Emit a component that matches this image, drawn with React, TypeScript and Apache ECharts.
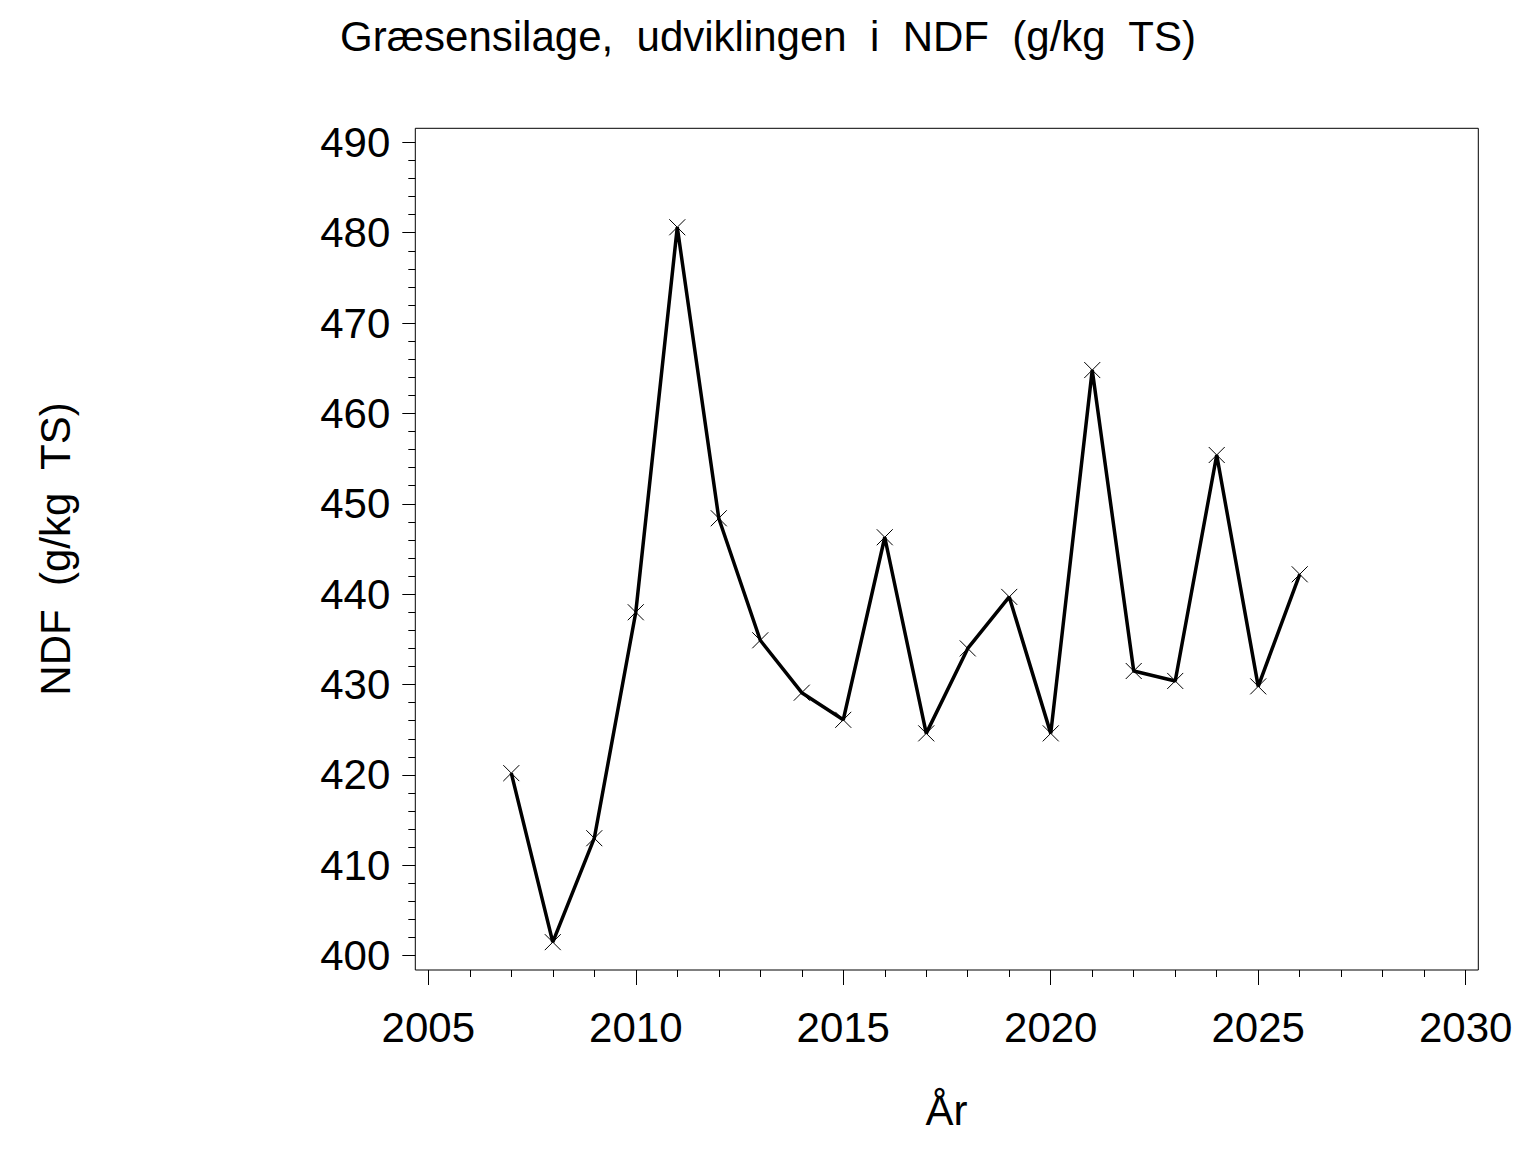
import React, { useEffect, useRef } from "react";
import * as echarts from "echarts";

const years = [2007, 2008, 2009, 2010, 2011, 2012, 2013, 2014, 2015, 2016, 2017, 2018, 2019, 2020, 2021, 2022, 2023, 2024, 2025, 2026];
const ndf = [420.2, 401.5, 413.0, 438.0, 480.6, 448.4, 434.9, 429.1, 426.1, 446.3, 424.6, 434.0, 439.7, 424.6, 464.8, 431.5, 430.4, 455.4, 429.8, 442.2];
const titleText = "Græsensilage,  udviklingen  i  NDF  (g/kg  TS)";
const yTitle = "NDF  (g/kg  TS)";
const xTitle = "År";

const FONT = "'Liberation Sans', Arial, Helvetica, sans-serif";

export default function App() {
  const ref = useRef<HTMLDivElement>(null);
  useEffect(() => {
    if (!ref.current) return;
    const chart = echarts.init(ref.current, undefined, { renderer: "svg" });
    const data = years.map((y, i) => [y, ndf[i]]);
    chart.setOption({
      animation: false,
      backgroundColor: "#fff",
      textStyle: { fontFamily: FONT },
      grid: { left: 428.3, right: 70.3, top: 142.3, bottom: 196.3, containLabel: false },
      graphic: [
        {
          type: "rect",
          shape: { x: 415.3, y: 128.3, width: 1063, height: 841.7 },
          style: { fill: "none", stroke: "#000", lineWidth: 1 },
          silent: true,
        },
        {
          type: "text",
          x: 768,
          y: 36,
          style: { text: titleText, fontSize: 42, fontFamily: FONT, fill: "#000", textAlign: "center", textVerticalAlign: "middle" },
        },
        {
          type: "text",
          x: 55,
          y: 549,
          rotation: Math.PI / 2,
          style: { text: yTitle, fontSize: 42, fontFamily: FONT, fill: "#000", textAlign: "center", textVerticalAlign: "middle" },
        },
        {
          type: "text",
          x: 946.5,
          y: 1110,
          style: { text: xTitle, fontSize: 42, fontFamily: FONT, fill: "#000", textAlign: "center", textVerticalAlign: "middle" },
        },
      ],
      xAxis: {
        type: "value",
        min: 2005,
        max: 2030,
        interval: 5,
        offset: 14.3,
        axisLine: { show: false },
        axisTick: { show: true, inside: false, length: 15, lineStyle: { color: "#000", width: 1 } },
        minorTick: { show: true, splitNumber: 5, length: 7, lineStyle: { color: "#000", width: 1 } },
        splitLine: { show: false },
        axisLabel: { fontSize: 42, color: "#000", margin: 36, fontFamily: FONT, formatter: (v: number) => String(v) },
      },
      yAxis: {
        type: "value",
        min: 400,
        max: 490,
        interval: 10,
        offset: 13,
        axisLine: { show: false },
        axisTick: { show: true, inside: false, length: 13, lineStyle: { color: "#000", width: 1 } },
        minorTick: { show: true, splitNumber: 5, length: 7, lineStyle: { color: "#000", width: 1 } },
        splitLine: { show: false },
        axisLabel: { fontSize: 42, color: "#000", margin: 25, fontFamily: FONT, formatter: (v: number) => String(v) },
      },
      series: [
        {
          type: "line",
          data,
          symbol: "path://M0 0L16 16M16 0L0 16",
          symbolSize: 16,
          showSymbol: true,
          clip: false,
          lineStyle: { color: "#000", width: 3.5 },
          itemStyle: { color: "transparent", borderColor: "#000", borderWidth: 1 },
          emphasis: { disabled: true },
        },
      ],
    });
    return () => chart.dispose();
  }, []);
  return <div ref={ref} style={{ position: "fixed", left: 0, top: 0, width: 1536, height: 1152 }} />;
}
